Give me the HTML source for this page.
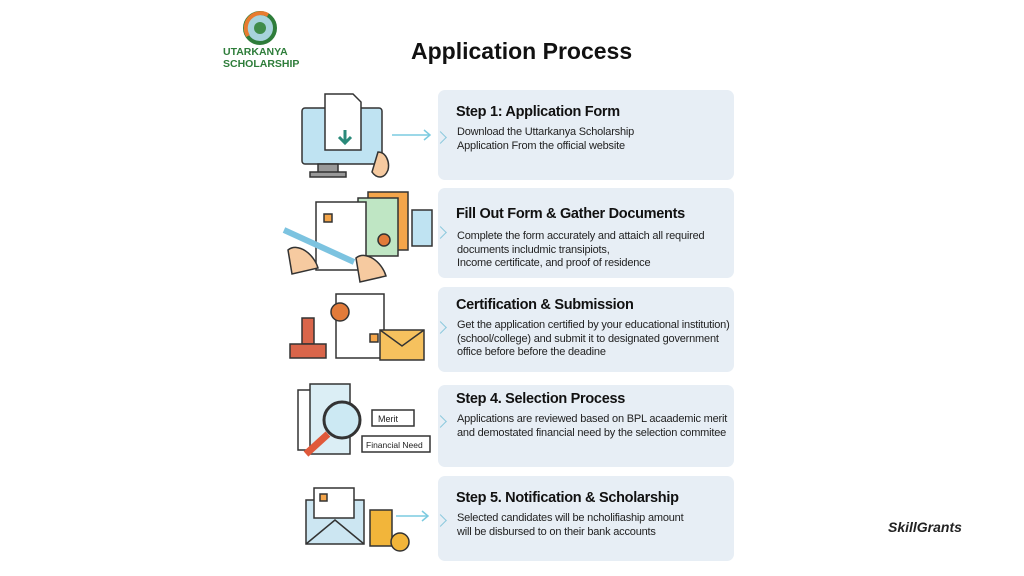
<!DOCTYPE html>
<html><head><meta charset="utf-8"><style>
body{margin:0;width:1024px;height:576px;background:#fff;position:relative;overflow:hidden;font-family:"Liberation Sans",sans-serif}
.card{position:absolute;left:438px;width:296px;background:#e7eef5;border-radius:7px}
.card h3{margin:0;position:absolute;left:18px;font-size:14.5px;font-weight:bold;color:#111;letter-spacing:-0.3px}
.card p{margin:0;position:absolute;left:19px;font-size:11px;line-height:13.5px;color:#222;letter-spacing:-0.2px}
.chev{position:absolute;left:-2px;width:8px;height:8px;border-right:1.5px solid #8cc9dd;border-top:1.5px solid #8cc9dd;transform:rotate(45deg)}
.t{position:absolute}
</style></head><body>
<svg class="t" style="left:240px;top:10px" width="40" height="36"><circle cx="20" cy="18" r="15" fill="#a7d3dc" stroke="#2e7d3a" stroke-width="4"/><path d="M8 26 A15 15 0 0 1 28 5" stroke="#e87b2f" stroke-width="4" fill="none"/><circle cx="20" cy="18" r="6" fill="#3f8c4a"/></svg>
<div class="t" style="left:223px;top:46px;font-size:10.5px;font-weight:bold;color:#2e7d3a;line-height:12px">UTARKANYA<br>SCHOLARSHIP</div>
<div class="t" style="left:411px;top:38px;font-size:23px;font-weight:bold;color:#111">Application Process</div>

<div class="card" style="top:90px;height:90px"><div class="chev" style="top:43px"></div><h3 style="top:14px">Step 1: Application Form</h3><p style="top:36px">Download the Uttarkanya Scholarship<br>Application From the official website</p></div>
<div class="card" style="top:188px;height:90px"><div class="chev" style="top:40px"></div><h3 style="top:18px">Fill Out Form &amp; Gather Documents</h3><p style="top:42px">Complete the form accurately and attaich all required<br>documents includmic transipiots,<br>Income certificate, and proof of residence</p></div>
<div class="card" style="top:287px;height:85px"><div class="chev" style="top:36px"></div><h3 style="top:10px">Certification &amp; Submission</h3><p style="top:32px">Get the application certified by your educational institution)<br>(school/college) and submit it to designated government<br>office before before the deadine</p></div>
<div class="card" style="top:385px;height:82px"><div class="chev" style="top:32px"></div><h3 style="top:6px">Step 4. Selection Process</h3><p style="top:28px">Applications are reviewed based on BPL acaademic merit<br>and demostated financial need by the selection commitee</p></div>
<div class="card" style="top:476px;height:85px"><div class="chev" style="top:40px"></div><h3 style="top:14px">Step 5. Notification &amp; Scholarship</h3><p style="top:36px">Selected candidates will be ncholifiaship amount<br>will be disbursed to on their bank accounts</p></div>

<svg class="t" style="left:280px;top:90px" width="160" height="480" stroke="#333" stroke-width="1.5">
<rect x="22" y="18" width="80" height="56" rx="3" fill="#bfe3f2"/><rect x="38" y="74" width="20" height="10" fill="#999"/><rect x="30" y="82" width="36" height="5" fill="#999"/>
<path d="M45 4h28l8 8v48h-36z" fill="#fff"/><path d="M65 40v12M59 47l6 6 6-6" stroke="#2a8a7a" stroke-width="3" fill="none"/>
<path d="M98 62c8 0 12 10 10 18-4 10-12 8-16 2z" fill="#f6caa0"/>
<line x1="112" y1="45" x2="150" y2="45" stroke="#7ccbe0"/><path d="M144 40l6 5-6 5" stroke="#7ccbe0" fill="none"/>
<rect x="88" y="102" width="40" height="58" fill="#f4a54a"/><rect x="78" y="108" width="40" height="58" fill="#bfe6c4"/><rect x="132" y="120" width="20" height="36" fill="#bfe3f2"/>
<rect x="36" y="112" width="50" height="68" fill="#fff"/><rect x="44" y="124" width="8" height="8" fill="#f4a54a"/><circle cx="104" cy="150" r="6" fill="#e27b3a"/>
<path d="M4 140l70 32" stroke-width="6" stroke="#7cc3e0"/><path d="M8 160c10-8 26 4 30 18l-26 6z" fill="#f6caa0"/><path d="M76 168c10-8 26 4 30 18l-26 6z" fill="#f6caa0"/>
<rect x="56" y="204" width="48" height="64" fill="#fff"/><circle cx="60" cy="222" r="9" fill="#e27b3a"/><rect x="90" y="244" width="8" height="8" fill="#f4a54a"/>
<rect x="100" y="240" width="44" height="30" fill="#f6c15e"/><path d="M100 240l22 16 22-16" fill="none"/>
<rect x="22" y="228" width="12" height="26" fill="#d9654a"/><rect x="10" y="254" width="36" height="14" fill="#d9654a"/>
<rect x="18" y="300" width="40" height="60" fill="#fff"/><rect x="30" y="294" width="40" height="70" fill="#dbeef5"/>
<circle cx="62" cy="330" r="18" fill="#cce9f3" stroke-width="3"/><path d="M48 344l-22 20" stroke="#e0593a" stroke-width="7"/>
<rect x="92" y="320" width="42" height="16" fill="#fff"/><text x="98" y="332" font-size="9" stroke="none" fill="#222" font-family="Liberation Sans">Merit</text>
<rect x="82" y="346" width="68" height="16" fill="#fff"/><text x="86" y="358" font-size="8.5" stroke="none" fill="#222" font-family="Liberation Sans">Financial Need</text>
<rect x="26" y="410" width="58" height="44" fill="#cce6f2"/><rect x="34" y="398" width="40" height="30" fill="#fff"/><rect x="40" y="404" width="7" height="7" fill="#f4a54a"/><path d="M26 454l29-24 29 24" fill="none"/>
<rect x="90" y="420" width="22" height="36" fill="#f2b53a"/><circle cx="120" cy="452" r="9" fill="#f2b53a"/>
<line x1="116" y1="426" x2="148" y2="426" stroke="#7ccbe0"/><path d="M142 421l6 5-6 5" stroke="#7ccbe0" fill="none"/>
</svg>
<div class="t" style="left:888px;top:519px;font-size:14px;font-style:italic;font-weight:bold;color:#222">SkillGrants</div>
</body></html>
